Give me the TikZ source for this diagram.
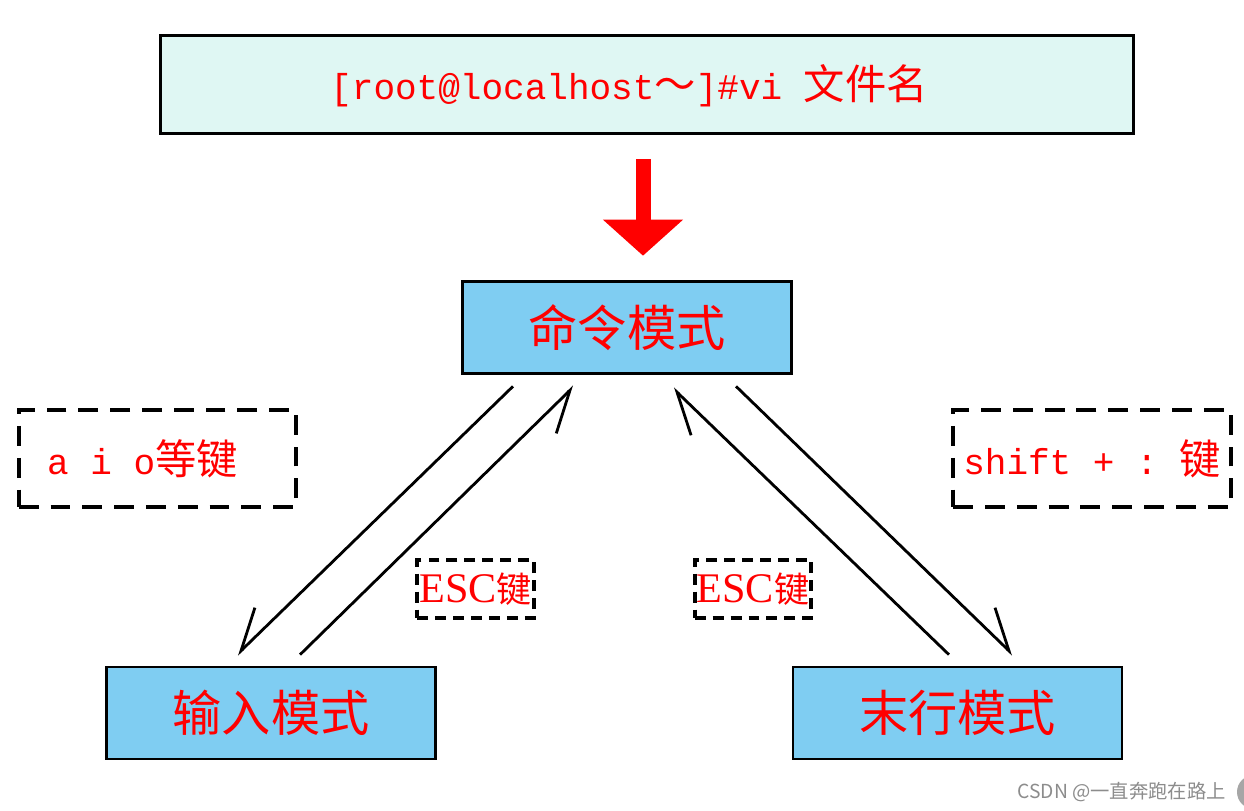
\documentclass[tikz,border=0pt]{standalone}
\usepackage{fontspec}
\setmainfont{Liberation Serif}
\setmonofont{Liberation Mono}
\newfontfamily\cjk{Noto Sans CJK SC}
\usepackage{tikz}
\usetikzlibrary{positioning, arrows.meta}
\definecolor{termbg}{RGB}{223,247,243}
\definecolor{modebg}{RGB}{127,205,242}
\newcommand{\monotxt}[1]{{\ttfamily\fontsize{20.5}{20.5}\selectfont #1}}
\newcommand{\hz}[1]{{\cjk\fontsize{23.5}{23.5}\selectfont #1}}
\newcommand{\esctxt}{{\fontsize{24}{24}\selectfont ESC}{\cjk\fontsize{20}{20}\selectfont 键}}

\begin{document}
\begin{tikzpicture}[x=0.02cm, y=-0.02cm,
  termbox/.style={draw, line width=1.7pt, fill=termbg, minimum width=19.48cm, minimum height=1.98cm, inner sep=0pt},
  modebox/.style={draw, line width=1.5pt, fill=modebg, minimum width=6.58cm, minimum height=1.84cm, inner sep=0pt, text=red, font=\cjk\fontsize{28}{28}\selectfont},
  keybox/.style={draw, dash pattern=on 11.3pt off 6.8pt, line width=2.3pt, minimum width=5.55cm, minimum height=1.94cm, inner sep=0pt, text=red},
  esckey/.style={draw, dash pattern=on 6.2pt off 4pt, line width=2.2pt, minimum width=2.33cm, minimum height=1.16cm, inner sep=0pt, text=red},
  modearrow/.style={line width=1.6pt},
  barbleft/.style={-{Straight Barb[harpoon, length=0.8cm, width=0.85cm]}},
  barbright/.style={-{Straight Barb[harpoon, swap, length=0.8cm, width=0.85cm]}}
]
\useasboundingbox (0,0) rectangle (1244,811);

% command line
\node[termbox] (top) at (647,84.5) {};
\node[text=red, inner sep=0pt] (cmdline) at (629,86) {\monotxt{[root@localhost\hz{～}]\#vi }\hz{文件名}};

% modes
\node[modebox] (cmd) at (627,327.5) {命令模式};
\node[modebox] (inmode) at (271,713) {输入模式};
\node[modebox] (lastmode) at (957.5,713) {末行模式};

% big red arrow
\draw[line width=0.3cm, red, -{Triangle[length=0.72cm, width=1.56cm]}, shorten <=0.48cm, shorten >=0.49cm]
  ([xshift=0.32cm]cmd.north |- top.south) -- ([xshift=0.32cm]cmd.north);

% keys
\node[keybox] (aiokeys) at (157.5,458.5) {};
\node[anchor=west, text=red, inner sep=0pt] (aiotext) at ([xshift=0.6cm]aiokeys.west) {\monotxt{a i o}\hz{等键}};
\node[keybox] (shiftkeys) at (1092,458.5) {\monotxt{shift + : }\hz{键}};
\node[esckey] (escleft) at (475.5,589) {\esctxt};
\node[esckey] (escright) at (753,589) {\esctxt};

% switching arrows
\draw[modearrow, barbright] ([xshift=-2.28cm, yshift=-0.23cm]cmd.south) -- ([xshift=-0.68cm, yshift=0.22cm]inmode.north);
\draw[modearrow, barbright] ([xshift=0.58cm, yshift=0.22cm]inmode.north) -- ([xshift=-1.06cm, yshift=-0.23cm]cmd.south);
\draw[modearrow, barbleft] ([xshift=-0.17cm, yshift=0.22cm]lastmode.north) -- ([xshift=0.92cm, yshift=-0.27cm]cmd.south);
\draw[modearrow, barbleft] ([xshift=2.18cm, yshift=-0.23cm]cmd.south) -- ([xshift=1.11cm, yshift=0.22cm]lastmode.north);

% watermark
\node[anchor=west, inner sep=0pt, text=black!45, font=\cjk\fontsize{11}{11}\selectfont] (mark) at (1017,792) {CSDN @一直奔跑在路上};
\fill[black!35] (1254,792) circle (0.34cm);

\end{tikzpicture}
\end{document}
